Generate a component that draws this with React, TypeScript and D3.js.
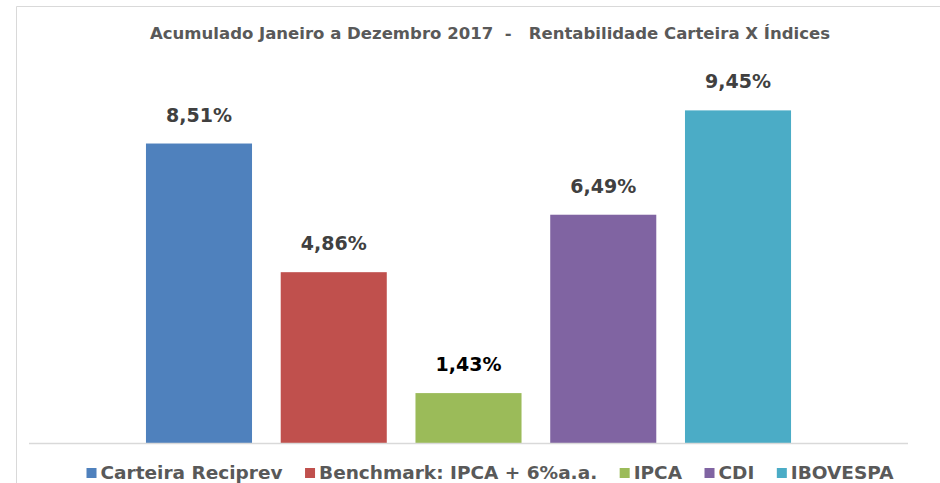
import React, { useMemo } from "react";
import * as d3 from "d3";

const categories = ["Carteira Reciprev", "Benchmark: IPCA + 6%a.a.", "IPCA", "CDI", "IBOVESPA"];
const values = [8.51, 4.86, 1.43, 6.49, 9.45];
const labels = ["8,51%", "4,86%", "1,43%", "6,49%", "9,45%"];
const colors = ["#4F81BD", "#C0504D", "#9BBB59", "#8064A2", "#4BACC6"];
const labelColors = ["#404040", "#404040", "#000000", "#404040", "#404040"];
const title = "Acumulado Janeiro a Dezembro 2017  -   Rentabilidade Carteira X Índices";

const W = 940;
const H = 483;
const FONT = "'DejaVu Sans', Verdana, sans-serif";
const LEGEND_SIZE = 18.5;

export default function App() {
  const x = d3
    .scaleBand<string>()
    .domain(categories)
    .range([29, 908])
    .paddingInner(0.213)
    .paddingOuter(0.868);
  const y = d3.scaleLinear().domain([0, 10]).range([443.5, 91]);

  const legend = useMemo(() => {
    const canvas = document.createElement("canvas");
    const ctx = canvas.getContext("2d")!;
    ctx.font = `bold ${LEGEND_SIZE}px ${FONT}`;
    const sq = 10;
    const gapSq = 4;
    const gapItem = 22.5;
    const widths = categories.map((c) => ctx.measureText(c).width);
    const total =
      widths.reduce((a, b) => a + b, 0) + categories.length * (sq + gapSq) + (categories.length - 1) * gapItem;
    let cur = 490 - total / 2;
    return categories.map((c, i) => {
      const item = { name: c, x: cur, color: colors[i] };
      cur += sq + gapSq + widths[i] + gapItem;
      return item;
    });
  }, []);

  return (
    <div style={{ position: "absolute", left: 0, top: 0, width: W, height: H, background: "#fff" }}>
      <svg width={W} height={H} style={{ display: "block" }}>
        <rect x={0} y={0} width={W} height={H} fill="#ffffff" />
        <line x1={16.5} y1={6.5} x2={W} y2={6.5} stroke="#D9D9D9" strokeWidth={1} />
        <line x1={16.5} y1={6.5} x2={16.5} y2={H} stroke="#D9D9D9" strokeWidth={1} />
        <text
          x={150}
          y={39}
          fontFamily={FONT}
          fontWeight="bold"
          fontSize={16}
          fill="#595959"
          textLength={680}
          lengthAdjust="spacingAndGlyphs"
          style={{ whiteSpace: "pre" }}
        >
          {title}
        </text>
        {categories.map((c, i) => (
          <g key={c}>
            <rect
              x={x(c)!}
              y={y(values[i])}
              width={x.bandwidth()}
              height={y(0) - y(values[i])}
              fill={colors[i]}
            />
            <text
              x={x(c)! + x.bandwidth() / 2}
              y={y(values[i]) - 22}
              textAnchor="middle"
              fontFamily={FONT}
              fontWeight="bold"
              fontSize={19}
              fill={labelColors[i]}
            >
              {labels[i]}
            </text>
          </g>
        ))}
        <line x1={29} y1={443.5} x2={908} y2={443.5} stroke="#D9D9D9" strokeWidth={1.5} />
        {legend.map((l) => (
          <g key={l.name}>
            <rect x={l.x} y={468} width={10} height={10} fill={l.color} />
            <text x={l.x + 14} y={479} fontFamily={FONT} fontWeight="bold" fontSize={LEGEND_SIZE} fill="#595959">
              {l.name}
            </text>
          </g>
        ))}
      </svg>
    </div>
  );
}
